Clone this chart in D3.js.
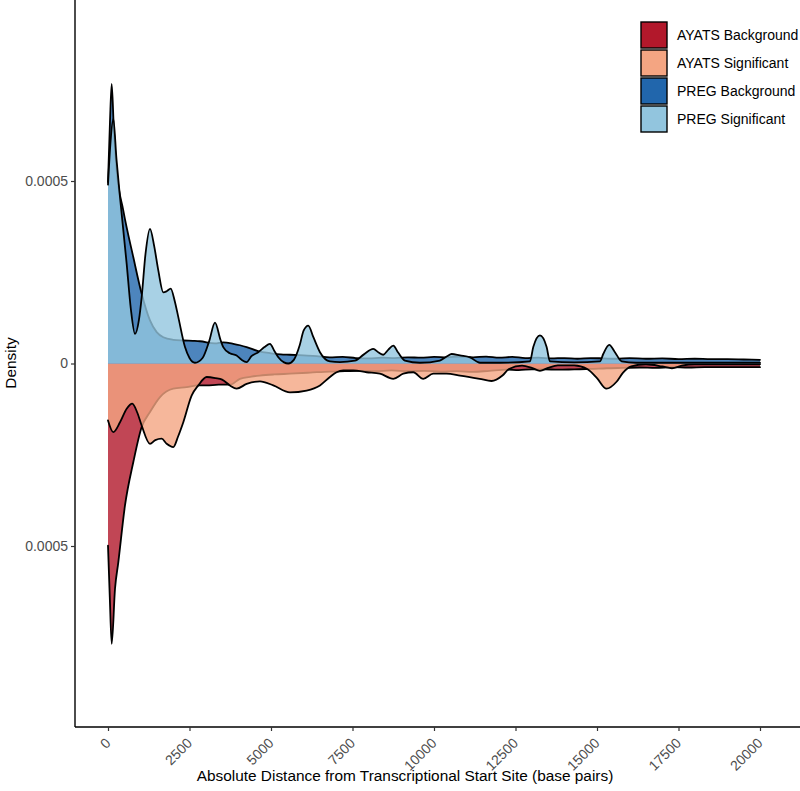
<!DOCTYPE html>
<html>
<head>
<meta charset="utf-8">
<script src="https://cdn.jsdelivr.net/npm/d3@7"></script>
<style>
  html, body { margin: 0; padding: 0; background: #fff; }
  svg { display: block; font-family: "Liberation Sans", Arial, Helvetica, sans-serif; }
</style>
</head>
<body>
<svg id="chart" width="800" height="791"></svg>
<script>
// ---- data (density values in units of 1e-4) ----
const DENSITY_UNIT = 1e-4;

const seriesNames = ["AYATS Background", "AYATS Significant", "PREG Background", "PREG Significant"];
const seriesColors = ["#b2182b", "#f4a582", "#2166ac", "#92c5de"];
const seriesSide = [-1, -1, 1, 1]; // AYATS mirrored below zero

const xTickValues = [0, 2500, 5000, 7500, 10000, 12500, 15000, 17500, 20000];
const xTickLabels = ["0", "2500", "5000", "7500", "10000", "12500", "15000", "17500", "20000"];
const yTickValues = [-0.0005, 0, 0.0005];
const yTickLabels = ["0.0005", "0", "0.0005"];

const pregBackground = [
  [0,4.97],[60,6.6],[113,7.66],[180,6.4],[266,5.29],[470,4.19],[777,2.91],[1033,1.91],[1288,1.18],
  [1493,0.86],[1697,0.72],[2003,0.65],[2310,0.63],[2600,0.62],[2820,0.61],[3282,0.55],[3536,0.58],
  [3843,0.54],[4048,0.5],[4253,0.45],[4600,0.34],[5000,0.28],[5300,0.25],[5582,0.24],[6000,0.22],
  [6400,0.2],[6800,0.17],[7200,0.18],[7600,0.15],[8000,0.14],[8400,0.16],[8800,0.15],[9200,0.17],
  [9600,0.16],[10000,0.18],[10400,0.17],[10800,0.19],[11200,0.17],[11600,0.19],[12000,0.16],
  [12400,0.18],[12800,0.15],[13200,0.16],[13600,0.14],[14000,0.15],[14400,0.13],[14800,0.15],
  [15200,0.14],[15600,0.13],[16000,0.15],[16500,0.13],[17000,0.14],[17500,0.12],[18000,0.13],
  [18500,0.12],[19000,0.12],[19500,0.11],[20000,0.10]
];

const pregSignificant = [
  [0,4.9],[80,6.1],[163,6.70],[260,5.6],[368,4.56],[573,2.73],[700,1.5],[828,0.81],[950,1.2],
  [1033,1.82],[1150,3.0],[1288,3.69],[1420,3.2],[1543,2.55],[1697,1.95],[1800,1.98],[1922,2.05],
  [2050,1.7],[2157,1.27],[2362,0.45],[2500,0.15],[2668,0.02],[2900,0.15],[3100,0.6],[3282,1.12],
  [3450,0.65],[3536,0.45],[3740,0.28],[3945,0.22],[4100,0.1],[4253,0.04],[4400,0.2],[4610,0.31],
  [4800,0.45],[4968,0.54],[5100,0.35],[5224,0.17],[5400,0.03],[5530,0.0],[5700,0.1],[5880,0.5],
  [6000,0.9],[6143,1.04],[6300,0.72],[6502,0.31],[6808,0.06],[7115,0.04],[7575,0.08],[7850,0.25],
  [8136,0.40],[8300,0.3],[8443,0.24],[8600,0.38],[8750,0.49],[8900,0.3],[9109,0.08],[9569,0.02],
  [10182,0.08],[10400,0.2],[10541,0.26],[10796,0.22],[11103,0.17],[11409,0.02],[12023,0.02],
  [12943,0.06],[13045,0.45],[13250,0.77],[13455,0.45],[13556,0.06],[14300,0.03],[15090,0.06],
  [15191,0.26],[15375,0.51],[15550,0.31],[15755,0.06],[16200,0.02],[20000,0.02]
];

const ayatsBackground = [
  [0,4.99],[55,6.4],[113,7.68],[215,6.17],[317,5.44],[521,3.89],[777,2.70],[1033,1.74],[1288,1.33],
  [1595,0.92],[2003,0.69],[2413,0.65],[2770,0.60],[3027,0.60],[3400,0.58],[3740,0.58],[4048,0.42],
  [4400,0.36],[4662,0.33],[5100,0.30],[5582,0.28],[6200,0.25],[6808,0.22],[7268,0.21],[7700,0.2],
  [8200,0.21],[8700,0.19],[9200,0.21],[9700,0.2],[10200,0.22],[10700,0.21],[11200,0.23],[11700,0.2],
  [12228,0.17],[12600,0.18],[13000,0.16],[13400,0.16],[13800,0.17],[14300,0.16],[14800,0.15],
  [15300,0.13],[15800,0.12],[16300,0.11],[16800,0.12],[17300,0.1],[17800,0.11],[18300,0.1],
  [18800,0.1],[19300,0.1],[20000,0.1]
];

const ayatsSignificant = [
  [0,1.56],[163,1.88],[368,1.61],[573,1.24],[745,1.10],[900,1.35],[1033,1.70],[1288,2.20],
  [1450,2.1],[1645,2.06],[1800,2.2],[2003,2.29],[2150,2.0],[2310,1.61],[2565,0.88],[2770,0.60],
  [3027,0.37],[3300,0.40],[3500,0.44],[3740,0.60],[3945,0.69],[4253,0.56],[4662,0.49],[5070,0.60],
  [5582,0.79],[6092,0.74],[6502,0.60],[6808,0.37],[7012,0.24],[7217,0.19],[7524,0.19],[7933,0.24],
  [8340,0.28],[8750,0.42],[9057,0.28],[9364,0.24],[9670,0.42],[9977,0.28],[10386,0.28],[10800,0.33],
  [11400,0.42],[11765,0.48],[12100,0.33],[12300,0.15],[12700,0.06],[13000,0.12],[13250,0.2],
  [13500,0.12],[13800,0.05],[14300,0.05],[14700,0.15],[15000,0.4],[15290,0.69],[15600,0.5],
  [15800,0.25],[16050,0.08],[16500,0.02],[17000,0.08],[17300,0.13],[17600,0.06],[18000,0.02],
  [20000,0.02]
];

const seriesData = [ayatsBackground, ayatsSignificant, pregBackground, pregSignificant];

// ---- scales ----
const svg = d3.select("#chart");
const x = d3.scaleLinear().domain([0, 20000]).range([108, 760]);
const y = d3.scaleLinear().domain([-0.0005, 0.0005]).range([546, 181]);
const axisLeftX = 75, axisBottomY = 727;
const fontFam = "'Liberation Sans', Arial, Helvetica, sans-serif";

// ---- density areas ----
const gPlot = svg.append("g");
seriesData.forEach((data, i) => {
  const s = seriesSide[i];
  const area = d3.area()
    .x(d => x(d[0]))
    .y0(y(0))
    .y1(d => y(s * d[1] * DENSITY_UNIT))
    .curve(d3.curveMonotoneX);
  const line = d3.line()
    .x(d => x(d[0]))
    .y(d => y(s * d[1] * DENSITY_UNIT))
    .curve(d3.curveMonotoneX);
  gPlot.append("path").datum(data)
    .attr("d", area)
    .attr("fill", seriesColors[i])
    .attr("fill-opacity", 0.8)
    .attr("stroke", "none");
  gPlot.append("path").datum(data)
    .attr("d", line)
    .attr("fill", "none")
    .attr("stroke", "#000")
    .attr("stroke-width", 1.8)
    .attr("stroke-linejoin", "round")
    .attr("stroke-linecap", "round");
});

// ---- axes ----
svg.append("line").attr("x1", axisLeftX).attr("x2", axisLeftX).attr("y1", 0).attr("y2", axisBottomY)
  .attr("stroke", "#000").attr("stroke-width", 1.4);
svg.append("line").attr("x1", axisLeftX).attr("x2", 800).attr("y1", axisBottomY).attr("y2", axisBottomY)
  .attr("stroke", "#000").attr("stroke-width", 1.4);

const gy = svg.append("g").attr("transform", `translate(${axisLeftX},0)`)
  .call(d3.axisLeft(y).tickValues(yTickValues).tickSize(4).tickFormat((d, i) => yTickLabels[i]));
gy.select(".domain").remove();
gy.selectAll(".tick line").attr("stroke", "#333").attr("stroke-width", 1.2);
gy.selectAll(".tick text").attr("fill", "#4d4d4d").attr("font-size", 14)
  .attr("font-family", fontFam).attr("x", -7);

const gx = svg.append("g").attr("transform", `translate(0,${axisBottomY})`)
  .call(d3.axisBottom(x).tickValues(xTickValues).tickSize(4).tickFormat((d, i) => xTickLabels[i]));
gx.select(".domain").remove();
gx.selectAll(".tick line").attr("stroke", "#333").attr("stroke-width", 1.2);
gx.selectAll(".tick text")
  .attr("fill", "#4d4d4d").attr("font-size", 14)
  .attr("font-family", fontFam)
  .attr("text-anchor", "end")
  .attr("y", 0).attr("dy", 0)
  .attr("transform", "translate(3,17) rotate(-45)");

// ---- axis titles ----
svg.append("text").attr("x", 405).attr("y", 781).attr("text-anchor", "middle")
  .attr("font-size", 15.4).attr("fill", "#000").attr("font-family", fontFam)
  .text("Absolute Distance from Transcriptional Start Site (base pairs)");
svg.append("text").attr("transform", "translate(16,363) rotate(-90)").attr("text-anchor", "middle")
  .attr("font-size", 15.4).attr("fill", "#000").attr("font-family", fontFam).text("Density");

// ---- legend ----
const legend = svg.append("g").attr("transform", "translate(641,22)");
seriesNames.forEach((name, i) => {
  const row = legend.append("g").attr("transform", `translate(0,${i * 28})`);
  row.append("rect").attr("x", 0).attr("y", 0).attr("width", 26).attr("height", 26)
    .attr("fill", seriesColors[i]).attr("stroke", "#000").attr("stroke-width", 1.4);
  row.append("text").attr("x", 36).attr("y", 13).attr("dy", "0.35em")
    .attr("font-size", 14).attr("fill", "#000").attr("font-family", fontFam).text(name);
});
</script>
</body>
</html>
